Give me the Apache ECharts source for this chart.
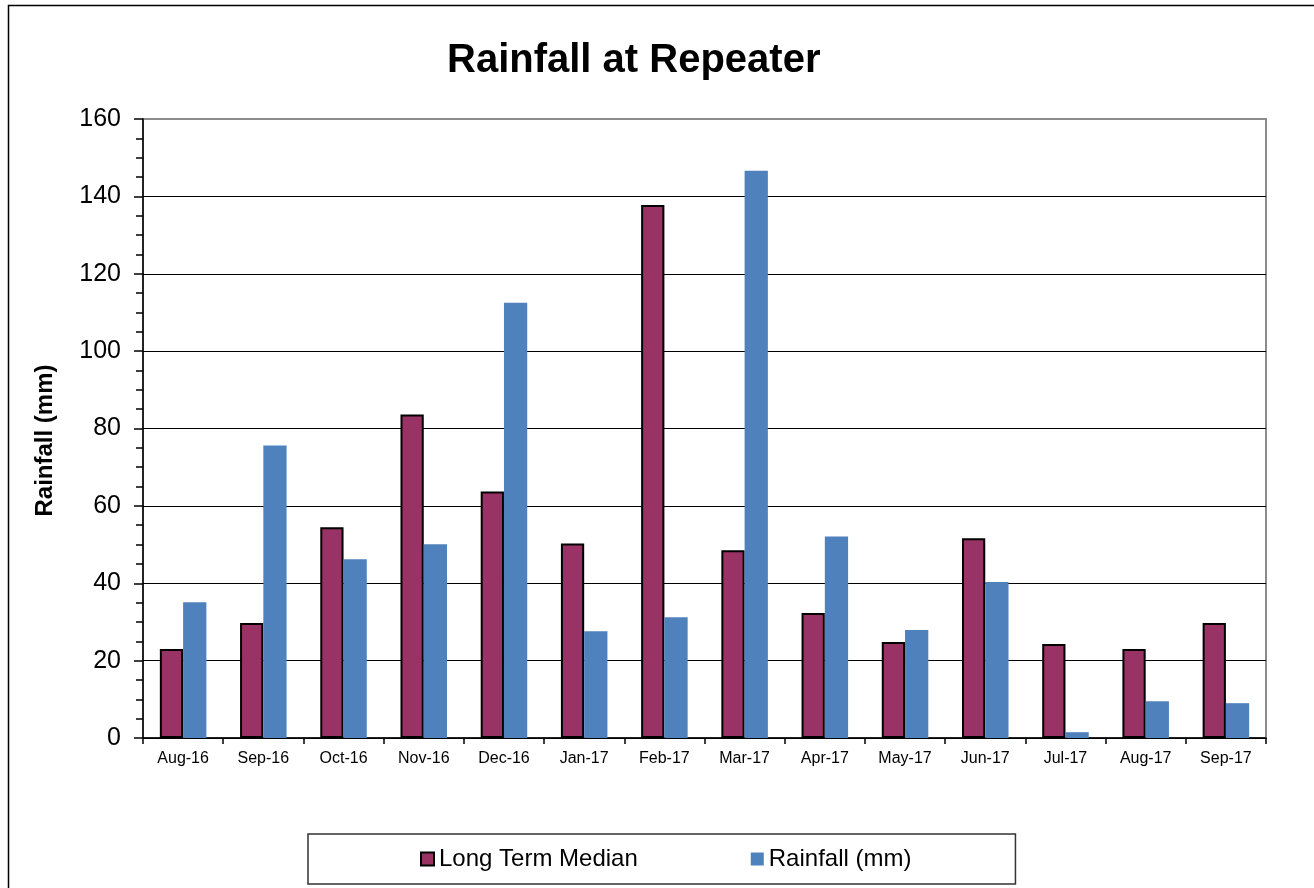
<!DOCTYPE html>
<html>
<head>
<meta charset="utf-8">
<script src="https://cdn.jsdelivr.net/npm/echarts@6/dist/echarts.min.js"></script>
<style>
  html, body { margin: 0; padding: 0; background: #fff; }
  #chart { width: 1314px; height: 888px; }
</style>
</head>
<body>
<div id="chart"></div>
<script>
const months = ['Aug-16', 'Sep-16', 'Oct-16', 'Nov-16', 'Dec-16', 'Jan-17', 'Feb-17',
    'Mar-17', 'Apr-17', 'May-17', 'Jun-17', 'Jul-17', 'Aug-17', 'Sep-17'];
const longTermMedian = [23.0, 29.7, 54.5, 83.6, 63.7, 50.3, 137.8, 48.5, 32.3, 24.8, 51.6, 24.3, 23.0, 29.7];
const rainfall = [35.1, 75.6, 46.2, 50.1, 112.5, 27.6, 31.2, 146.6, 52.1, 27.9, 40.3, 1.5, 9.5, 9.0];

const font = '"Liberation Sans", Arial, sans-serif';

const chart = echarts.init(document.getElementById('chart'), null, { renderer: 'canvas' });

chart.setOption({
    animation: false,
    backgroundColor: '#fff',
    textStyle: { fontFamily: font, color: '#000' },
    title: {
        text: 'Rainfall at Repeater',
        left: 442,
        top: 36,
        textStyle: { fontFamily: font, fontSize: 40, fontWeight: 'bold', color: '#000' },
    },
    // outer chart frame
    graphic: [{
        type: 'rect',
        shape: { x: 8.5, y: 5.5, width: 1400, height: 1000 },
        style: { fill: 'none', stroke: '#000', lineWidth: 1.5 },
        silent: true,
    }],
    grid: {
        left: 143, right: 48, top: 119, bottom: 150,
        show: true, borderColor: '#8c8c8c', borderWidth: 2, backgroundColor: 'transparent',
    },
    legend: {
        data: ['Long Term Median', 'Rainfall (mm)'],
        left: 308,
        top: 834,
        padding: [13, 104, 13, 112],
        itemGap: 113,
        itemWidth: 13,
        itemHeight: 13,
        icon: 'rect',
        borderColor: '#333',
        borderWidth: 1.5,
        textStyle: { fontFamily: font, fontSize: 24, color: '#000' },
    },
    xAxis: {
        type: 'category',
        data: months,
        axisLine: { lineStyle: { color: '#000', width: 1.5 } },
        axisTick: { show: true, length: 6, interval: 0, lineStyle: { color: '#000', width: 1.5 } },
        axisLabel: { fontFamily: font, fontSize: 16, color: '#000', margin: 13, interval: 0 },
        splitLine: { show: false },
    },
    yAxis: {
        type: 'value',
        min: 0,
        max: 160,
        interval: 20,
        name: 'Rainfall (mm)',
        nameLocation: 'middle',
        nameGap: 86,
        nameTextStyle: { fontFamily: font, fontSize: 24, fontWeight: 'bold', color: '#000', padding: [0, 24, 0, 0] },
        axisLine: { show: true, lineStyle: { color: '#000', width: 1.5 } },
        axisTick: { show: true, length: 9, lineStyle: { color: '#000', width: 1.5 } },
        minorTick: { show: true, splitNumber: 4, length: 7, lineStyle: { color: '#000', width: 1.5 } },
        axisLabel: { fontFamily: font, fontSize: 25, color: '#000', margin: 22 },
        splitLine: { show: true, showMaxLine: false, lineStyle: { color: '#000', width: 1.2 } },
    },
    series: [
        {
            name: 'Long Term Median',
            type: 'bar',
            data: longTermMedian,
            barGap: '0%',
            barCategoryGap: '42%',
            itemStyle: { color: '#993366', borderColor: '#000', borderWidth: 2 },
        },
        {
            name: 'Rainfall (mm)',
            type: 'bar',
            data: rainfall,
            barGap: '0%',
            barCategoryGap: '42%',
            itemStyle: { color: '#4f81bd' },
        },
    ],
});
</script>
</body>
</html>
